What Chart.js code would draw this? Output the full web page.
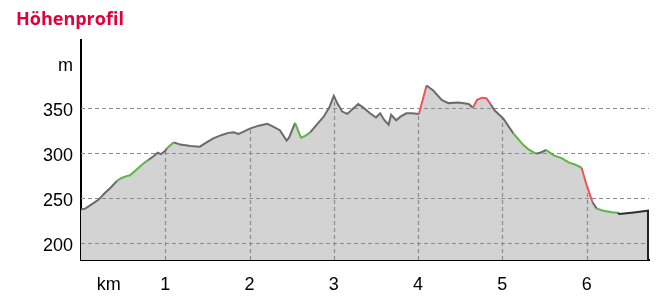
<!DOCTYPE html>
<html>
<head>
<meta charset="utf-8">
<script src="https://cdn.jsdelivr.net/npm/chart.js@4.4.1/dist/chart.umd.min.js"></script>
<style>
body { margin: 0; background: #fff; }
#wrap { position: relative; width: 669px; height: 301px; }
#titel { position: absolute; left: 16px; top: 9px; z-index: 2; font: 700 18px/18px "Open Sans", sans-serif; color: #e2003c; }
canvas { display: block; }
</style>
</head>
<body>
<div id="wrap">
  <div id="titel">Höhenprofil</div>
  <canvas id="profil" width="669" height="301"></canvas>
</div>
<script>
const distKm = [0.00, 0.05, 0.13, 0.21, 0.28, 0.36, 0.43, 0.48, 0.54, 0.58,
  0.66, 0.74, 0.80, 0.86, 0.91, 0.95, 1.00, 1.02, 1.10, 1.18,
  1.30, 1.41, 1.49, 1.57, 1.67, 1.75, 1.81, 1.87, 1.93, 2.01,
  2.11, 2.21, 2.28, 2.36, 2.44, 2.47, 2.54, 2.61, 2.66, 2.72,
  2.80, 2.88, 2.95, 3.00, 3.04, 3.10, 3.16, 3.23, 3.29, 3.35,
  3.43, 3.50, 3.55, 3.60, 3.65, 3.68, 3.74, 3.79, 3.86, 3.93,
  4.01, 4.10, 4.18, 4.28, 4.36, 4.48, 4.60, 4.65, 4.70, 4.76,
  4.81, 4.86, 4.91, 5.01, 5.13, 5.25, 5.31, 5.40, 5.45, 5.52,
  5.61, 5.71, 5.79, 5.86, 5.94, 6.00, 6.07, 6.12, 6.20, 6.30,
  6.37, 6.39, 6.56, 6.74];

const hoehe = [237, 238, 243, 248, 255, 262, 269, 272, 274, 275,
  281.5, 288, 292, 296, 300, 298.5, 302, 305, 311.5, 309,
  307.4, 306.7, 311.5, 316, 319.7, 322, 322.7, 320.8, 323.3, 327,
  330, 332, 329, 325, 313.5, 317, 333, 316.7, 318.6, 322.6,
  331.5, 340, 351, 363, 355, 345.6, 343, 349, 354, 350,
  343.7, 339, 343.7, 336, 331, 342, 336, 340, 343.7, 343.7,
  343, 374.5, 369, 358.6, 355, 355.6, 354, 350, 358.6, 361,
  360.4, 353.8, 346.7, 338, 321.5, 308.5, 303.7, 299, 300, 303,
  297, 293.7, 289, 287, 283.3, 264, 245, 238, 235.6, 234,
  233.3, 232, 233.8, 236];

// Art des Abschnitts ab jedem Punkt: n = normal, g = grün, r = rot, d = dunkel
const steigung = ['nnnnnn', 'gggggg', 'nnnnn', 'g', 'nnnnnnnnnnnnnnnnnn', 'ggg',
  'nnnnnnnnnnnnnnnnnnnnn', 'r', 'nnnnnn', 'rrrr', 'nnn', 'ggg', 'nn', 'ggggg',
  'rr', 'n', 'ggg', 'ddd', 'n'].join('').split('');

const yTickWerte = [200, 250, 300, 350, 400];
const yTickText = ['200', '250', '300', '350', 'm'];
const xTickWerte = [0.33, 1, 2, 3, 4, 5, 6];
const xTickText = ['km', '1', '2', '3', '4', '5', '6'];
const gitterY = [200, 250, 300, 350];
const gitterX = [1, 2, 3, 4, 5, 6];

const farben = { n: '#6b6b6b', g: '#5cb544', r: '#f25257', d: '#2e2e2e' };
const schrift = { family: '"Liberation Sans", Arial, sans-serif', size: 18 };

function hoeheBei(km) {
    for (let i = 0; i < distKm.length - 1; i++) {
        if (km >= distKm[i] && km <= distKm[i + 1]) {
            const t = (km - distKm[i]) / (distKm[i + 1] - distKm[i]);
            return hoehe[i] + t * (hoehe[i + 1] - hoehe[i]);
        }
    }
    return hoehe[hoehe.length - 1];
}

// Gitter nach der Fläche, aber vor der Linie zeichnen
const gitter = {
    id: 'gitter',
    beforeDatasetDraw(chart, args) {
        if (args.index !== 0) return;
        const { ctx, chartArea: a, scales: { x, y } } = chart;
        ctx.save();
        ctx.strokeStyle = '#8c8c8c';
        ctx.lineWidth = 1.2;
        ctx.setLineDash([4, 3]);
        ctx.beginPath();
        gitterY.forEach(v => {
            const py = Math.round(y.getPixelForValue(v)) + 0.5;
            ctx.moveTo(a.left, py);
            ctx.lineTo(a.right, py);
        });
        gitterX.forEach(k => {
            const px = Math.round(x.getPixelForValue(k)) + 0.5;
            ctx.moveTo(px, a.bottom);
            ctx.lineTo(px, y.getPixelForValue(hoeheBei(k)));
        });
        ctx.stroke();
        ctx.restore();
    },
    afterDatasetsDraw(chart) {
        const { ctx, chartArea: a, scales: { x, y } } = chart;
        const last = distKm.length - 1;
        const px = x.getPixelForValue(distKm[last]);
        ctx.save();
        ctx.strokeStyle = '#222';
        ctx.lineWidth = 2;
        ctx.beginPath();
        ctx.moveTo(px - 1, y.getPixelForValue(hoehe[last]));
        ctx.lineTo(px - 1, a.bottom);
        ctx.stroke();
        ctx.restore();
    }
};

const punkte = distKm.map((d, i) => ({ x: d, y: hoehe[i] }));

new Chart(document.getElementById('profil'), {
    type: 'line',
    data: {
        datasets: [{
            // Fläche
            data: punkte,
            order: 2,
            borderWidth: 0,
            borderColor: 'rgba(0,0,0,0)',
            backgroundColor: '#d3d3d3',
            fill: 'start',
            pointRadius: 0,
            tension: 0
        }, {
            // Linie mit farbigen Abschnitten
            data: punkte,
            order: 1,
            borderColor: farben.n,
            borderWidth: 2,
            fill: false,
            pointRadius: 0,
            tension: 0,
            segment: {
                borderColor: c => farben[steigung[c.p0DataIndex]] || farben.n
            }
        }]
    },
    options: {
        responsive: false,
        animation: false,
        layout: { padding: { top: 40, right: 20, left: 0, bottom: 0 } },
        plugins: {
            legend: { display: false },
            tooltip: { enabled: false }
        },
        scales: {
            x: {
                type: 'linear',
                min: 0,
                max: 6.74,
                z: 1,
                grid: { display: false, drawTicks: false },
                border: { color: '#000', width: 2 },
                afterBuildTicks: s => { s.ticks = xTickWerte.map(v => ({ value: v })); },
                afterFit: s => { s.height = 41; },
                ticks: {
                    autoSkip: false,
                    maxRotation: 0,
                    padding: 14,
                    color: '#000',
                    font: schrift,
                    callback: (v, i) => xTickText[i]
                }
            },
            y: {
                min: 181,
                max: 425,
                z: 1,
                grid: { display: false, drawTicks: false },
                border: { color: '#000', width: 2 },
                afterBuildTicks: s => { s.ticks = yTickWerte.map(v => ({ value: v })); },
                afterFit: s => { s.width = 81; },
                ticks: {
                    padding: 8,
                    labelOffset: 3,
                    color: '#000',
                    font: schrift,
                    callback: (v, i) => yTickText[i]
                }
            }
        }
    },
    plugins: [gitter]
});
</script>
</body>
</html>
